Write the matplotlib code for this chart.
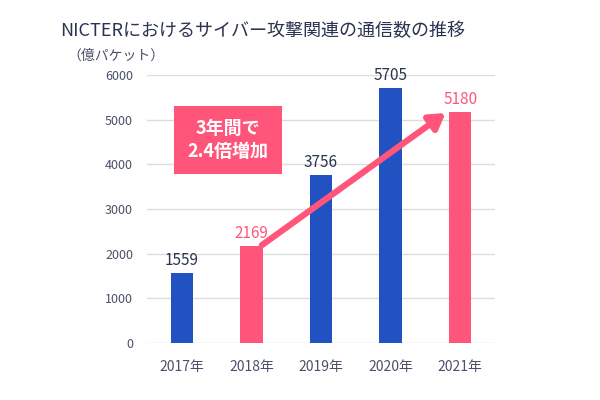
import matplotlib
matplotlib.use("Agg")
import matplotlib.pyplot as plt

plt.rcParams['font.family'] = ['Noto Sans CJK JP', 'DejaVu Sans']

years = ['2017年', '2018年', '2019年', '2020年', '2021年']
values = [1559, 2169, 3756, 5705, 5180]
highlight = [False, True, False, False, True]

blue = '#2251c2'
pink = '#ff557b'
navy = '#2a3450'
gray = '#4a5068'

fig = plt.figure(figsize=(6, 4), dpi=100)
ax = fig.add_axes([0.245, 0.1425, 0.58, 0.67])

x = range(len(years))
colors = [pink if h else blue for h in highlight]
ax.bar(x, values, width=0.32, color=colors, zorder=2)

for i, v in enumerate(values):
    ax.text(i, v + 90, str(v), ha='center', va='bottom', fontsize=11,
            color=pink if highlight[i] else navy)

ax.set_xlim(-0.5, 4.5)
ax.set_ylim(0, 6000)
ax.set_yticks(range(0, 6001, 1000))
ax.set_xticks(list(x))
ax.set_xticklabels(years)
ax.tick_params(axis='y', length=0, labelsize=9, colors=gray, pad=10)
ax.tick_params(axis='x', length=0, labelsize=10, colors=gray, pad=12)
ax.grid(axis='y', color='#dddddd', linewidth=1, zorder=0)
for s in ax.spines.values():
    s.set_visible(False)

# arrow
ax.annotate('', xy=(3.79, 5150), xytext=(1.15, 2190),
            arrowprops=dict(arrowstyle='-|>,head_length=0.9,head_width=0.55',
                            color=pink, lw=4.5, shrinkA=0, shrinkB=0), zorder=3)

# callout box
ax.text(0.665, 4545, '3年間で\n2.4倍増加', ha='center', va='center',
        fontsize=13, fontweight='bold', color='white', linespacing=1.25,
        bbox=dict(boxstyle='square,pad=0.75', fc=pink, ec='none'), zorder=4)

fig.text(0.437, 0.922, 'NICTERにおけるサイバー攻撃関連の通信数の推移',
         ha='center', va='center', fontsize=13, color=navy)
fig.text(0.113, 0.86, '（億パケット）', ha='left', va='center', fontsize=10, color=gray)

fig.savefig('out.png', dpi=100)
